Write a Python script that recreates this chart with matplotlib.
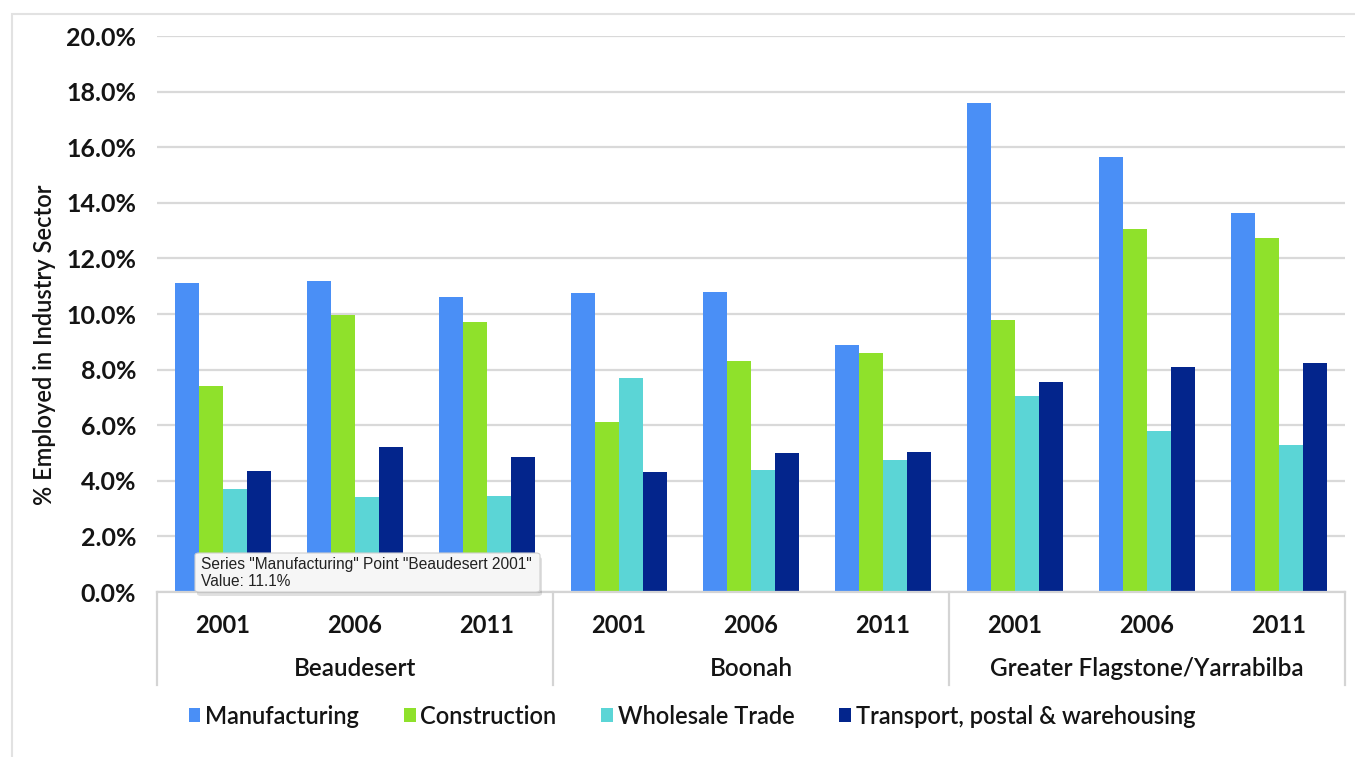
import matplotlib
matplotlib.use("Agg")
import matplotlib.pyplot as plt
from matplotlib import font_manager
from matplotlib.patches import Patch, Rectangle, FancyBboxPatch
from matplotlib.lines import Line2D
import matplotlib.transforms as mtransforms
import numpy as np

# ---- data -------------------------------------------------------------
regions = ["Beaudesert", "Boonah", "Greater Flagstone/Yarrabilba"]
years = ["2001", "2006", "2011"]
series_names = ["Manufacturing", "Construction", "Wholesale Trade",
                "Transport, postal & warehousing"]

manufacturing = [11.1, 11.2, 10.6, 10.75, 10.8, 8.9, 17.6, 15.65, 13.65]
construction = [7.4, 9.95, 9.7, 6.1, 8.3, 8.6, 9.8, 13.05, 12.75]
wholesale = [3.7, 3.4, 3.45, 7.7, 4.4, 4.75, 7.05, 5.8, 5.3]
transport = [4.35, 5.2, 4.85, 4.3, 5.0, 5.05, 7.55, 8.1, 8.25]

y_ticks = [0, 2, 4, 6, 8, 10, 12, 14, 16, 18, 20]
tooltip_lines = ['Series "Manufacturing" Point "Beaudesert 2001"',
                 'Value: 11.1%']

colors = ["#4a8ff6", "#8fe12b", "#5bd5d6", "#03258c"]

# ---- fonts ------------------------------------------------------------
available = {f.name for f in font_manager.fontManager.ttflist}
main_font = next((f for f in ["Liberation Sans Narrow", "DejaVu Sans Condensed",
                              "Lato"] if f in available), "DejaVu Sans")
plt.rcParams["font.family"] = [main_font, "DejaVu Sans"]
text_color = "#141414"

W, H = 1355, 757
fig = plt.figure(figsize=(W / 100, H / 100), dpi=100)

def fx(px):
    return px / W

def fy(py):
    return 1 - py / H

# outer chart frame
fig.patches.append(Rectangle((fx(12), fy(1000)), 2, fy(14) - fy(1000),
                             transform=fig.transFigure, fill=False,
                             edgecolor="#e2e2e2", lw=1.5, zorder=0))

left, right, top, bottom = 157, 1345, 36, 592
ax = fig.add_axes([fx(left), fy(bottom), fx(right - left), fy(top) - fy(bottom)])

n = len(manufacturing)
x = np.arange(n)
bw = 0.18
offsets = np.array([-1.5, -0.5, 0.5, 1.5]) * bw
for vals, off, c, name in zip([manufacturing, construction, wholesale, transport],
                              offsets, colors, series_names):
    ax.bar(x + off, vals, width=bw, color=c, label=name, zorder=2)

ax.set_xlim(-0.5, n - 0.5)
ax.set_ylim(0, 20)
ax.set_yticks(y_ticks)
ax.set_yticklabels([f"{v:.1f}%" for v in y_ticks], fontsize=18,
                   color=text_color, fontweight="bold")
ax.yaxis.grid(True, color="#d9d9d9", lw=1.6, zorder=0)
ax.set_axisbelow(True)
ax.tick_params(axis="y", length=0, pad=15)
for s in ["top", "right", "left"]:
    ax.spines[s].set_visible(False)
ax.spines["bottom"].set_color("#d4d4d4")
ax.spines["bottom"].set_linewidth(1.6)

# year labels on the first tier
ax.set_xticks(x)
ax.set_xticklabels(years * len(regions), fontsize=17, color=text_color,
                   fontweight="bold")
ax.tick_params(axis="x", length=0, pad=16)

# region labels and separators on the second tier
trans = mtransforms.blended_transform_factory(ax.transData, ax.transAxes)
ax_h = bottom - top
for i, reg in enumerate(regions):
    ax.text(3 * i + 1, -(668 - bottom) / ax_h, reg, transform=trans,
            ha="center", va="center", fontsize=17.5, color=text_color,
            fontweight="semibold")
for b in [-0.5, 2.5, 5.5, 8.5]:
    ax.add_line(Line2D([b, b], [0, -(685 - bottom) / ax_h], transform=trans,
                       color="#d4d4d4", lw=1.6, clip_on=False))

fig.text(fx(45), fy(345), "% Employed in Industry Sector", rotation=90,
         ha="center", va="center", fontsize=17, color=text_color,
         fontweight="semibold")

# legend
handles = [Patch(facecolor=c, edgecolor="none") for c in colors]
fig.legend(handles, series_names, loc="center", ncol=4,
           bbox_to_anchor=(fx(692), fy(716)), frameon=False,
           prop={"size": 17, "weight": "semibold"},
           handlelength=0.5, handleheight=0.55, handletextpad=0.2,
           columnspacing=1.9, labelcolor=text_color)

# hover tooltip box
tx0, ty0, tx1, ty1 = 195, 553, 540, 592
shadow = FancyBboxPatch((fx(tx0 + 2), fy(ty1 + 4)), fx(tx1 - tx0), fy(ty0) - fy(ty1),
                        boxstyle="round,pad=0,rounding_size=0.003",
                        transform=fig.transFigure, facecolor="#000000",
                        alpha=0.12, edgecolor="none", zorder=9)
box = FancyBboxPatch((fx(tx0), fy(ty1)), fx(tx1 - tx0), fy(ty0) - fy(ty1),
                     boxstyle="round,pad=0,rounding_size=0.003",
                     transform=fig.transFigure, facecolor="#f6f6f6",
                     edgecolor="#cfcfcf", lw=0.8, zorder=10)
fig.patches.extend([shadow, box])
fig.text(fx(201), fy(565), tooltip_lines[0], ha="left", va="center",
         fontsize=11.2, family=["Liberation Sans", "DejaVu Sans"],
         color="#222222", zorder=11)
fig.text(fx(201), fy(582), tooltip_lines[1], ha="left", va="center",
         fontsize=11.2, family=["Liberation Sans", "DejaVu Sans"],
         color="#222222", zorder=11)

fig.savefig("out.png", dpi=100)
